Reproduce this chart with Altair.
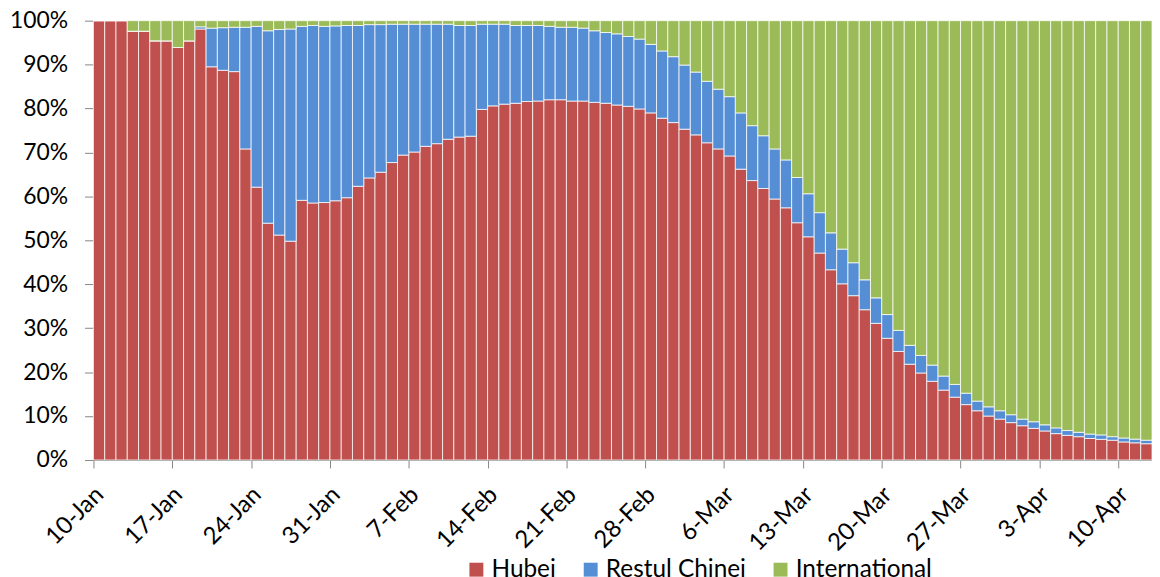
import json
import altair as alt
import pandas as pd

# ---- data (percent of cumulative cases) ----
series_names = ["Hubei", "Restul Chinei", "International"]
series_colors = ["#C0504D", "#558ED5", "#9BBB59"]
tick_labels = ["10-Jan", "17-Jan", "24-Jan", "31-Jan", "7-Feb", "14-Feb", "21-Feb",
               "28-Feb", "6-Mar", "13-Mar", "20-Mar", "27-Mar", "3-Apr", "10-Apr"]

# one value per day, 10-Jan ... 13-Apr
hubei = [100, 100, 100, 97.6, 97.6, 95.4, 95.4, 93.9, 95.4, 98.1,
         89.5, 88.7, 88.4, 70.8, 62.1, 53.9, 51.2, 49.8, 59.1, 58.5,
         58.6, 59.0, 59.7, 62.3, 64.2, 65.5, 67.7, 69.4, 70.1, 71.4,
         72.0, 73.0, 73.5, 73.7, 79.8, 80.6, 81.0, 81.2, 81.6, 81.7,
         82.0, 82.0, 81.7, 81.7, 81.4, 81.2, 80.8, 80.5, 79.9, 79.0,
         77.8, 76.8, 75.3, 74.0, 72.2, 70.8, 69.2, 66.2, 63.6, 61.8,
         59.4, 57.4, 54.0, 50.8, 47.1, 43.3, 40.1, 37.4, 34.2, 31.1,
         27.7, 24.7, 21.8, 19.8, 17.9, 15.9, 14.3, 12.6, 11.2, 10.0,
         9.3, 8.5, 7.8, 7.2, 6.6, 6.0, 5.6, 5.3, 4.9, 4.7,
         4.5, 4.1, 3.9, 3.7]

restul = [0, 0, 0, 0, 0, 0, 0, 0, 0, 0.5,
          8.8, 9.7, 10.1, 27.7, 36.6, 43.8, 46.8, 48.3, 39.6, 40.4,
          40.1, 39.8, 39.2, 36.6, 34.9, 33.6, 31.5, 29.8, 29.1, 27.8,
          27.2, 26.2, 25.4, 25.2, 19.4, 18.6, 18.2, 17.7, 17.3, 17.2,
          16.7, 16.5, 16.8, 16.6, 16.3, 16.1, 16.2, 15.9, 15.9, 15.6,
          15.3, 15.0, 14.6, 14.3, 14.0, 13.6, 13.5, 12.8, 12.5, 12.0,
          11.4, 10.9, 10.3, 9.8, 9.2, 8.4, 7.9, 7.5, 6.8, 5.8,
          5.4, 4.8, 4.3, 4.0, 3.7, 3.2, 2.9, 2.6, 2.2, 2.1,
          1.9, 1.8, 1.5, 1.5, 1.4, 1.3, 1.1, 1.0, 1.0, 1.0,
          0.8, 0.9, 0.85, 0.8]

international = [0, 0, 0, 2.4, 2.4, 4.6, 4.6, 6.1, 4.6, 1.4,
                 1.7, 1.6, 1.5, 1.5, 1.3, 2.3, 2.0, 1.9, 1.3, 1.1,
                 1.3, 1.2, 1.1, 1.1, 0.9, 0.9, 0.8, 0.8, 0.8, 0.8,
                 0.8, 0.8, 1.1, 1.1, 0.8, 0.8, 0.8, 1.1, 1.1, 1.1,
                 1.3, 1.5, 1.5, 1.7, 2.3, 2.7, 3.0, 3.6, 4.2, 5.4,
                 6.9, 8.2, 10.1, 11.7, 13.8, 15.6, 17.3, 21.0, 23.9, 26.2,
                 29.2, 31.7, 35.7, 39.4, 43.7, 48.3, 52.0, 55.1, 59.0, 63.1,
                 66.9, 70.5, 73.9, 76.2, 78.4, 80.9, 82.8, 84.8, 86.6, 87.9,
                 88.8, 89.7, 90.7, 91.3, 92.0, 92.7, 93.3, 93.7, 94.1, 94.3,
                 94.7, 95.0, 95.25, 95.5]

title_text = "Hubei vs restul Chinei Continentale vs International"

# ---- stacked table ----
rows = []
for i in range(len(hubei)):
    base = 0.0
    for k, (name, vals) in enumerate(zip(series_names, [hubei, restul, international])):
        top = min(100.0, base + vals[i])
        rows.append({"day": i, "series": name, "order": k, "y0": base, "y1": top})
        base = top
df = pd.DataFrame(rows)

FONT = "Lato"
n_days = len(hubei)
label_expr = json.dumps(tick_labels).replace('"', "'") + "[round(datum.value / 7)]"

bars = alt.Chart(df).transform_calculate(
    day_end="datum.day + 1"
).mark_rect(stroke="white", strokeWidth=1, strokeOpacity=0.75).encode(
    x=alt.X("day:Q",
            scale=alt.Scale(domain=[0, n_days], nice=False, zero=False),
            axis=alt.Axis(values=list(range(0, n_days, 7)), labelExpr=label_expr,
                          title=None, grid=False, domainColor="#868686", tickColor="#868686",
                          tickSize=8, labelAngle=-45, labelAlign="right", labelBaseline="middle",
                          labelOffset=6, labelPadding=23, labelFont=FONT, labelFontSize=24,
                          labelColor="black", labelOverlap=False, labelBound=False)),
    x2="day_end:Q",
    y=alt.Y("y0:Q",
            scale=alt.Scale(domain=[0, 100], nice=False),
            axis=alt.Axis(values=list(range(0, 101, 10)), labelExpr="datum.value + '%'",
                          title=None, grid=False, domainColor="#868686", tickColor="#868686",
                          tickSize=9, labelPadding=17, labelFont=FONT, labelFontSize=23,
                          labelColor="black", labelOverlap=False)),
    y2="y1:Q",
    color=alt.Color("series:N",
                    scale=alt.Scale(domain=series_names, range=series_colors),
                    legend=alt.Legend(title=None, orient="none", legendX=373, legendY=540,
                                      direction="horizontal", symbolType="square",
                                      symbolSize=196, symbolStrokeWidth=0, symbolOpacity=1,
                                      labelFont=FONT, labelFontSize=24.5, labelColor="black",
                                      labelOffset=3, columnPadding=22)),
    order=alt.Order("order:Q"),
)

chart = bars.properties(
    width=1065,
    height=442,
    autosize=alt.AutoSizeParams(type="none"),
    padding={"left": 86, "top": 11, "right": 0, "bottom": 116},
    title=alt.TitleParams(title_text, font=FONT, fontSize=24, fontWeight="bold",
                          anchor="middle", offset=14, color="black"),
).configure_view(stroke=None)

chart.save("out.html", embed_options={"renderer": "svg", "actions": False})
